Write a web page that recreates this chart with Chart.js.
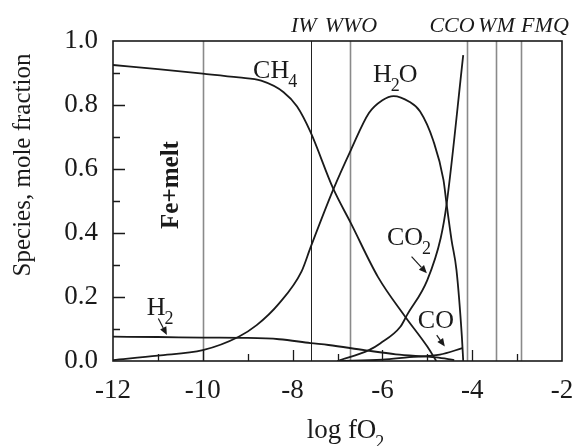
<!DOCTYPE html>
<html>
<head>
<meta charset="utf-8">
<script src="https://cdn.jsdelivr.net/npm/chart.js@4.4.1/dist/chart.umd.min.js"></script>
<style>
  html, body { margin: 0; padding: 0; background: #fff; }
  canvas { display: block; }
</style>
</head>
<body>
<canvas id="myChart" width="574" height="446"></canvas>
<script>
"use strict";

// species curves (log fO2 vs mole fraction)
const ch4X = [-12, -11, -10, -9.2, -8.7, -8.2, -7.9, -7.6, -7.1, -6.7, -6.1, -5.5, -5.0, -4.8];
const ch4Y = [0.925, 0.912, 0.898, 0.886, 0.876, 0.84, 0.795, 0.715, 0.54, 0.43, 0.263, 0.14, 0.045, 0.0];

const h2oX = [-12, -11, -10, -9.2, -8.8, -8.3, -7.8, -7.6, -7.1, -6.7, -6.3, -6.0, -5.75, -5.4, -5.16, -4.87, -4.64, -4.57, -4.46, -4.35, -4.23, -4.2];
const h2oY = [0.003, 0.017, 0.034, 0.076, 0.112, 0.18, 0.28, 0.355, 0.534, 0.66, 0.775, 0.815, 0.828, 0.81, 0.78, 0.69, 0.566, 0.49, 0.378, 0.284, 0.076, 0.0];

const co2X = [-7.0, -6.3, -6.05, -5.6, -5.45, -5.0, -4.7, -4.57, -4.2];
const co2Y = [0.0, 0.034, 0.055, 0.107, 0.144, 0.253, 0.385, 0.49, 0.956];

const coX = [-7.0, -6.0, -5.4, -4.72, -4.22];
const coY = [0.0, 0.004, 0.012, 0.02, 0.04];

const h2X = [-12, -11, -10, -9, -8.3, -7.6, -7.2, -6.4, -5.7, -4.8, -4.4];
const h2Y = [0.076, 0.075, 0.073, 0.072, 0.068, 0.056, 0.05, 0.034, 0.021, 0.011, 0.003];

// oxygen buffers (vertical lines)
const bufferNames = ["IW", "WWO", "CCO", "WM", "FMQ"];
const bufferLogFO2 = [-7.6, -6.72, -4.12, -3.47, -2.91];
const boundaryLogFO2 = [-10];

// axis ticks
const xTicks = [-12, -10, -8, -6, -4, -2];
const yTicks = [0.0, 0.2, 0.4, 0.6, 0.8, 1.0];

const SERIF = "'Liberation Serif', 'Times New Roman', serif";

function pts(xs, ys) {
  return xs.map(function (x, i) {
    return { x: x, y: ys[i] };
  });
}

function curve(label, xs, ys) {
  return {
    label: label,
    data: pts(xs, ys),
    borderColor: "#1a1a1a",
    borderWidth: 1.8,
    pointRadius: 0,
    fill: false,
    cubicInterpolationMode: "monotone",
  };
}

// label placement (data units) - text parts: [text, isSubscript]
const speciesLabels = [
  { x: -8.88, y: 0.884, parts: [["CH", 0], ["4", 1]] },
  { x: -6.21, y: 0.872, parts: [["H", 0], ["2", 1], ["O", 0]] },
  { x: -5.9, y: 0.3625, parts: [["CO", 0], ["2", 1]] },
  { x: -5.21, y: 0.103, parts: [["CO", 0]] },
  { x: -11.25, y: 0.144, parts: [["H", 0], ["2", 1]] },
];
const arrows = [
  [-5.35, 0.326, -5.01, 0.274],
  [-4.79, 0.081, -4.61, 0.045],
  [-10.99, 0.133, -10.8, 0.081],
];
const bufferLabelX = [-7.75, -6.7, -4.45, -3.46, -2.38];

function drawParts(ctx, parts, x, y, size) {
  let cx = x;
  parts.forEach(function (p) {
    if (p[1]) {
      ctx.font = Math.round(size * 0.68) + "px " + SERIF;
      ctx.fillText(p[0], cx - 1, y + size * 0.36);
    } else {
      ctx.font = size + "px " + SERIF;
      ctx.fillText(p[0], cx, y);
    }
    cx += ctx.measureText(p[0]).width - (p[1] ? 2 : 0);
  });
}

const decor = {
  id: "decor",
  beforeDatasetsDraw(chart) {
    const ctx = chart.ctx;
    const xs = chart.scales.x;
    const a = chart.chartArea;
    ctx.save();
    boundaryLogFO2.forEach(function (v) {
      const px = Math.round(xs.getPixelForValue(v)) + 0.5;
      ctx.strokeStyle = "#8a8a8a";
      ctx.lineWidth = 1.6;
      ctx.beginPath();
      ctx.moveTo(px, a.top);
      ctx.lineTo(px, a.bottom);
      ctx.stroke();
    });
    bufferLogFO2.forEach(function (v, i) {
      const px = Math.round(xs.getPixelForValue(v)) + 0.5;
      ctx.strokeStyle = i === 0 ? "#222" : "#8a8a8a";
      ctx.lineWidth = i === 0 ? 1 : 1.6;
      ctx.beginPath();
      ctx.moveTo(px, a.top);
      ctx.lineTo(px, a.bottom);
      ctx.stroke();
    });
    ctx.restore();
  },
  afterDatasetsDraw(chart) {
    const ctx = chart.ctx;
    const xs = chart.scales.x;
    const ys = chart.scales.y;
    const a = chart.chartArea;
    ctx.save();
    ctx.fillStyle = "#1a1a1a";
    ctx.strokeStyle = "#1a1a1a";

    // frame
    ctx.lineWidth = 1.6;
    ctx.strokeRect(a.left, a.top, a.right - a.left, a.bottom - a.top);

    // inward ticks
    ctx.lineWidth = 1.3;
    ctx.beginPath();
    for (let v = -11; v < -2; v++) {
      const px = Math.round(xs.getPixelForValue(v)) + 0.5;
      const len = v % 2 === 0 ? 11 : 7;
      ctx.moveTo(px, a.bottom);
      ctx.lineTo(px, a.bottom - len);
    }
    for (let k = 1; k < 10; k++) {
      const py = Math.round(ys.getPixelForValue(k / 10)) + 0.5;
      const len = k % 2 === 0 ? 12 : 7;
      ctx.moveTo(a.left, py);
      ctx.lineTo(a.left + len, py);
    }
    ctx.stroke();

    // species labels
    ctx.textBaseline = "alphabetic";
    ctx.textAlign = "left";
    speciesLabels.forEach(function (l) {
      drawParts(ctx, l.parts, xs.getPixelForValue(l.x), ys.getPixelForValue(l.y), 26);
    });

    // arrows
    ctx.lineWidth = 1.2;
    arrows.forEach(function (ar) {
      const x1 = xs.getPixelForValue(ar[0]), y1 = ys.getPixelForValue(ar[1]);
      const x2 = xs.getPixelForValue(ar[2]), y2 = ys.getPixelForValue(ar[3]);
      const ang = Math.atan2(y2 - y1, x2 - x1);
      const hl = 8, hw = 3.5;
      const bx = x2 - hl * Math.cos(ang), by = y2 - hl * Math.sin(ang);
      ctx.beginPath();
      ctx.moveTo(x1, y1);
      ctx.lineTo(bx, by);
      ctx.stroke();
      ctx.beginPath();
      ctx.moveTo(x2, y2);
      ctx.lineTo(bx - hw * Math.sin(ang), by + hw * Math.cos(ang));
      ctx.lineTo(bx + hw * Math.sin(ang), by - hw * Math.cos(ang));
      ctx.closePath();
      ctx.fill();
    });

    // Fe+melt
    ctx.save();
    ctx.translate(xs.getPixelForValue(-10.69), ys.getPixelForValue(0.55));
    ctx.rotate(-Math.PI / 2);
    ctx.textAlign = "center";
    ctx.textBaseline = "middle";
    ctx.font = "bold 25px " + SERIF;
    ctx.fillText("Fe+melt", 0, 0);
    ctx.restore();

    // buffer names above the frame
    ctx.font = "italic 22px " + SERIF;
    ctx.textAlign = "center";
    ctx.textBaseline = "alphabetic";
    bufferNames.forEach(function (n, i) {
      ctx.fillText(n, xs.getPixelForValue(bufferLabelX[i]), a.top - 9);
    });

    // axis titles
    ctx.textAlign = "left";
    ctx.font = "27px " + SERIF;
    const w = ctx.measureText("log fO").width;
    const tx = (a.left + a.right) / 2 + 4 - w / 2;
    drawParts(ctx, [["log fO", 0], ["2", 1]], tx, a.bottom + 77, 27);

    ctx.save();
    ctx.translate(a.left - 90, a.top + 124);
    ctx.rotate(-Math.PI / 2);
    ctx.textAlign = "center";
    ctx.textBaseline = "middle";
    ctx.font = "25px " + SERIF;
    ctx.fillText("Species, mole fraction", 0, 0);
    ctx.restore();

    ctx.restore();
  },
};

const data = {
  datasets: [
    curve("CH4", ch4X, ch4Y),
    curve("H2O", h2oX, h2oY),
    curve("CO2", co2X, co2Y),
    curve("CO", coX, coY),
    curve("H2", h2X, h2Y),
  ],
};

const config = {
  type: "line",
  data,
  options: {
    responsive: false,
    animation: false,
    layout: { padding: { top: 41, right: 12, left: 0, bottom: 0 } },
    plugins: {
      legend: { display: false },
      tooltip: { enabled: false },
    },
    scales: {
      x: {
        type: "linear",
        min: xTicks[0],
        max: xTicks[xTicks.length - 1],
        afterBuildTicks: function (s) {
          s.ticks = xTicks.map(function (v) { return { value: v }; });
        },
        afterFit: function (s) {
          s.height = 85;
          s.paddingLeft = 0;
          s.paddingRight = 0;
        },
        grid: { display: false, drawTicks: false },
        border: { display: false },
        ticks: {
          padding: 14,
          color: "#1a1a1a",
          font: { family: SERIF, size: 27 },
          maxRotation: 0,
          autoSkip: false,
          callback: function (v) { return String(v); },
        },
      },
      y: {
        min: 0,
        max: 1,
        afterBuildTicks: function (s) {
          s.ticks = yTicks.map(function (v) { return { value: v }; });
        },
        afterFit: function (s) {
          s.width = 113;
          s.paddingTop = 0;
          s.paddingBottom = 0;
        },
        grid: { display: false, drawTicks: false },
        border: { display: false },
        ticks: {
          padding: 15,
          color: "#1a1a1a",
          font: { family: SERIF, size: 27 },
          callback: function (v) { return v.toFixed(1); },
        },
      },
    },
  },
  plugins: [decor],
};

const myChart = new Chart(document.getElementById("myChart"), config);
</script>
</body>
</html>
